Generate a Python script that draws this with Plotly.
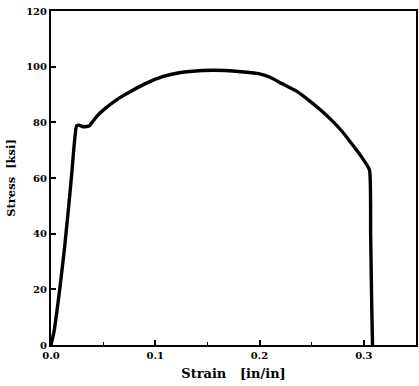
import plotly.graph_objects as go

strain = [0.0, 0.003, 0.006, 0.009, 0.013, 0.017, 0.020, 0.022, 0.0245, 0.027, 0.030, 0.034, 0.037,
          0.0435, 0.052, 0.0625, 0.075, 0.091, 0.107, 0.123, 0.145, 0.167, 0.185, 0.199, 0.210,
          0.221, 0.235, 0.247, 0.258, 0.269, 0.279, 0.288, 0.297, 0.3054, 0.3065, 0.3075, 0.3083]
stress = [0.0, 5, 13, 22, 35, 50, 62, 71, 78.7, 79.0, 78.5, 78.5, 78.8,
          82, 85, 88, 90.8, 94, 96.4, 97.8, 98.6, 98.6, 98.1, 97.5, 96.2,
          94, 91.3, 88, 84.6, 80.8, 76.8, 72.5, 68, 62.9, 40, 15, 0]

x_ticks = [0.0, 0.1, 0.2, 0.3]
x_tick_labels = ["0.0", "0.1", "0.2", "0.3"]
y_ticks = [0, 20, 40, 60, 80, 100, 120]
y_tick_labels = ["0", "20", "40", "60", "80", "100", "120"]

font_family = "DejaVu Serif"

fig = go.Figure()
fig.add_trace(go.Scatter(x=strain, y=stress, mode="lines",
                         line=dict(color="black", width=3.4, shape="spline", smoothing=0.4),
                         showlegend=False))

fig.update_layout(
    width=419, height=386,
    margin=dict(l=51, r=1, t=11, b=41),
    paper_bgcolor="white", plot_bgcolor="white",
    font=dict(family=font_family, color="black"),
)
fig.update_xaxes(
    range=[0, 0.35], tickvals=x_ticks, ticktext=x_tick_labels,
    showgrid=False, zeroline=False, showline=True, linecolor="black", linewidth=2, mirror=True,
    ticks="inside", ticklen=5, tickwidth=1.5, tickcolor="black",
    minor=dict(dtick=0.05, tick0=0, ticks="inside", ticklen=3, tickcolor="black", tickwidth=1),
    tickfont=dict(family=font_family, size=10, color="black", weight="bold"),
    title=dict(text="Strain   [in/in]", font=dict(family=font_family, size=13, color="black", weight="bold"), standoff=9),
)
fig.update_yaxes(
    range=[0, 120], tickvals=y_ticks, ticktext=y_tick_labels,
    showgrid=False, zeroline=False, showline=True, linecolor="black", linewidth=2, mirror=True,
    ticks="inside", ticklen=5, tickwidth=1.5, tickcolor="black",
    tickfont=dict(family=font_family, size=10, color="black", weight="bold"),
    title=dict(text="Stress  [ksi]", font=dict(family=font_family, size=11.5, color="black", weight="bold"), standoff=8),
)

fig.write_html("out.html")
